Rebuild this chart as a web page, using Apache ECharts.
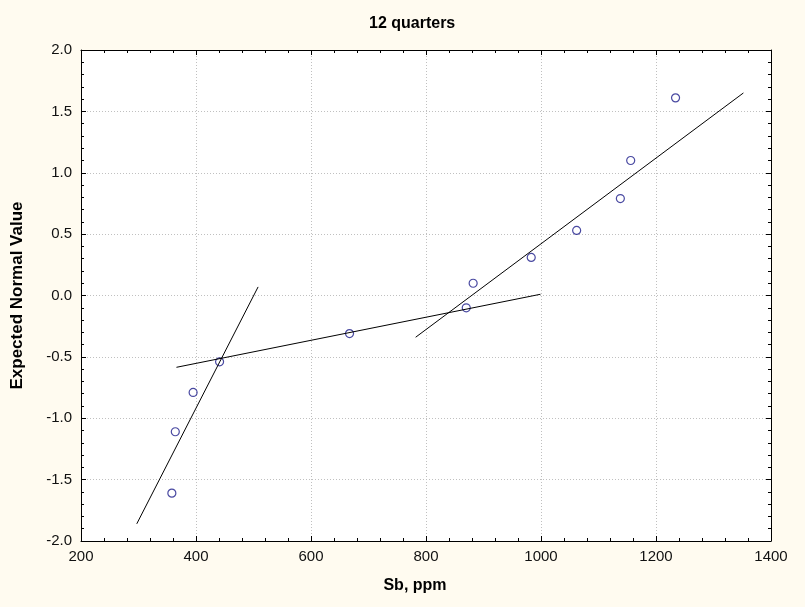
<!DOCTYPE html>
<html>
<head>
<meta charset="utf-8">
<script src="https://cdn.jsdelivr.net/npm/echarts@6/dist/echarts.min.js"></script>
<style>
  html, body { margin: 0; padding: 0; background: #fffbf0; }
  #chart { width: 805px; height: 607px; }
</style>
</head>
<body>
<div id="chart"></div>
<script>
// observed Sb values and their expected normal scores
var sbValues = [358, 364, 395, 441, 667, 870, 882, 983, 1062, 1138, 1156, 1234];
var normalValues = [-1.61, -1.11, -0.79, -0.54, -0.31, -0.10, 0.10, 0.31, 0.53, 0.79, 1.10, 1.61];

// fitted lines, [x, y] end points
var lineLow = [[297, -1.86], [508, 0.07]];
var lineMid = [[366, -0.585], [999, 0.01]];
var lineHigh = [[782, -0.34], [1352, 1.65]];

var font = "Liberation Sans, Arial, sans-serif";

var points = sbValues.map(function (x, i) { return [x, normalValues[i]]; });

var chart = echarts.init(document.getElementById("chart"));

var baseAxis = {
  axisLine: { onZero: false, lineStyle: { color: "#000", width: 1 } },
  axisTick: { inside: true, length: 5, lineStyle: { color: "#000" } },
  minorTick: { show: true, splitNumber: 5, length: 3, lineStyle: { color: "#000" } }
};

var option = {
  backgroundColor: "#fffbf0",
  animation: false,
  title: {
    text: "12 quarters",
    left: 364,
    top: 11,
    textStyle: { fontFamily: font, fontSize: 16, fontWeight: "bold", color: "#000" }
  },
  grid: { left: 81, right: 34, top: 50, bottom: 66, show: true, backgroundColor: "#fff", borderWidth: 0 },
  xAxis: [
    Object.assign({}, baseAxis, {
      type: "value", min: 200, max: 1400, interval: 200,
      name: "Sb, ppm", nameLocation: "middle", nameGap: 37,
      nameTextStyle: { fontFamily: font, fontSize: 16, fontWeight: "bold", color: "#000", padding: [0, 22, 0, 0] },
      axisLabel: {
        fontFamily: font, fontSize: 15, color: "#111", margin: 8,
        formatter: function (v) { return String(v); }
      },
      splitLine: { show: true, lineStyle: { color: "#c0c0c0", type: [1, 2] } }
    }),
    Object.assign({}, baseAxis, {
      type: "value", position: "top", min: 200, max: 1400, interval: 200,
      axisLabel: { show: false }, splitLine: { show: false }
    })
  ],
  yAxis: [
    Object.assign({}, baseAxis, {
      type: "value", min: -2, max: 2, interval: 0.5,
      name: "Expected Normal Value", nameLocation: "middle", nameGap: 55,
      nameTextStyle: { fontFamily: font, fontSize: 17, fontWeight: "bold", color: "#000" },
      axisLabel: {
        fontFamily: font, fontSize: 15, color: "#111", margin: 9,
        formatter: function (v) { return v.toFixed(1); }
      },
      splitLine: { show: true, lineStyle: { color: "#c0c0c0", type: [1, 2] } }
    }),
    Object.assign({}, baseAxis, {
      type: "value", position: "right", min: -2, max: 2, interval: 0.5,
      axisLabel: { show: false }, splitLine: { show: false }
    })
  ],
  series: [
    {
      type: "line", data: lineLow, symbol: "none",
      lineStyle: { color: "#000", width: 1 }
    },
    {
      type: "line", data: lineMid, symbol: "none",
      lineStyle: { color: "#000", width: 1 }
    },
    {
      type: "line", data: lineHigh, symbol: "none",
      lineStyle: { color: "#000", width: 1 }
    },
    {
      type: "scatter", data: points, symbol: "circle", symbolSize: 8,
      itemStyle: { color: "rgba(255,255,255,0)", borderColor: "#1c1c8a", borderWidth: 1.2 }
    }
  ]
};

chart.setOption(option);
window.addEventListener("resize", function () { chart.resize(); });
</script>
</body>
</html>
